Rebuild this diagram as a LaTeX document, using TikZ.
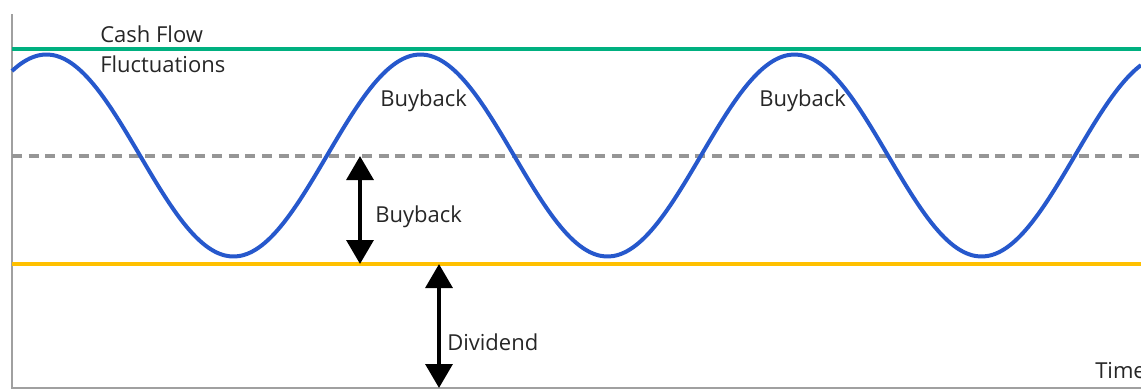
\documentclass[tikz,border=0pt]{standalone}
\usepackage{fontspec}
\setmainfont{Open Sans}
\usetikzlibrary{arrows.meta}
\definecolor{cfgreen}{RGB}{0,176,128}
\definecolor{cfyellow}{RGB}{255,192,0}
\definecolor{cfblue}{RGB}{38,88,204}
\definecolor{axisgrey}{RGB}{160,160,160}
\definecolor{dashgrey}{RGB}{150,150,150}
\tikzset{
  lbl/.style={anchor=west, inner sep=0pt, font=\fontsize{16.5}{18}\selectfont, text=black!85},
  dblarrow/.style={line width=3.3pt, {Triangle[width=20pt,length=18pt]}-{Triangle[width=20pt,length=18pt]}},
}
\begin{document}
\begin{tikzpicture}[x=0.75pt,y=-0.75pt]
\useasboundingbox (0,0) rectangle (1141,390);
% axes
\coordinate (yt) at (12,14);
\coordinate (o) at (12,388);
\coordinate (xr) at (1141,388);
\draw[axisgrey, line width=2.2pt] (yt) -- (o) -- (xr);
% levels
\coordinate (gL) at (12,49);  \coordinate (gR) at (1141,49);
\coordinate (yL) at (12,264); \coordinate (yR) at (1141,264);
\coordinate (dL) at (12,156); \coordinate (dR) at (1141,156);
\draw[cfgreen, line width=3pt] (gL) -- (gR);
\draw[cfyellow, line width=2.4pt] (yL) -- (yR);
\draw[dashgrey, line width=2.4pt, dash pattern=on 7.5pt off 5pt] (dL) -- (dR);
% wave
\draw[cfblue, line width=3pt, line join=round, smooth] plot[domain=12:1141, samples=260] (\x, {155.5-101*cos((\x-46.5)/374*360)});
% arrows
\coordinate (b1) at (360,156); \coordinate (b2) at (360,264);
\coordinate (d1) at (439,264); \coordinate (d2) at (439,388);
\draw[dblarrow] (b1) -- (b2);
\draw[dblarrow] (d1) -- (d2);
% labels
\node[lbl] (cf1) at (100,34) {Cash Flow};
\node[lbl] (cf2) at (100,64) {Fluctuations};
\node[lbl] (bb1) at (380,101) {Buyback};
\node[lbl] (bb2) at (759,101) {Buyback};
\node[lbl] (bb3) at (375,217) {Buyback};
\node[lbl] (div) at (447,342) {Dividend};
\node[lbl] (tm) at (1095,371) {Time};
\end{tikzpicture}
\end{document}
